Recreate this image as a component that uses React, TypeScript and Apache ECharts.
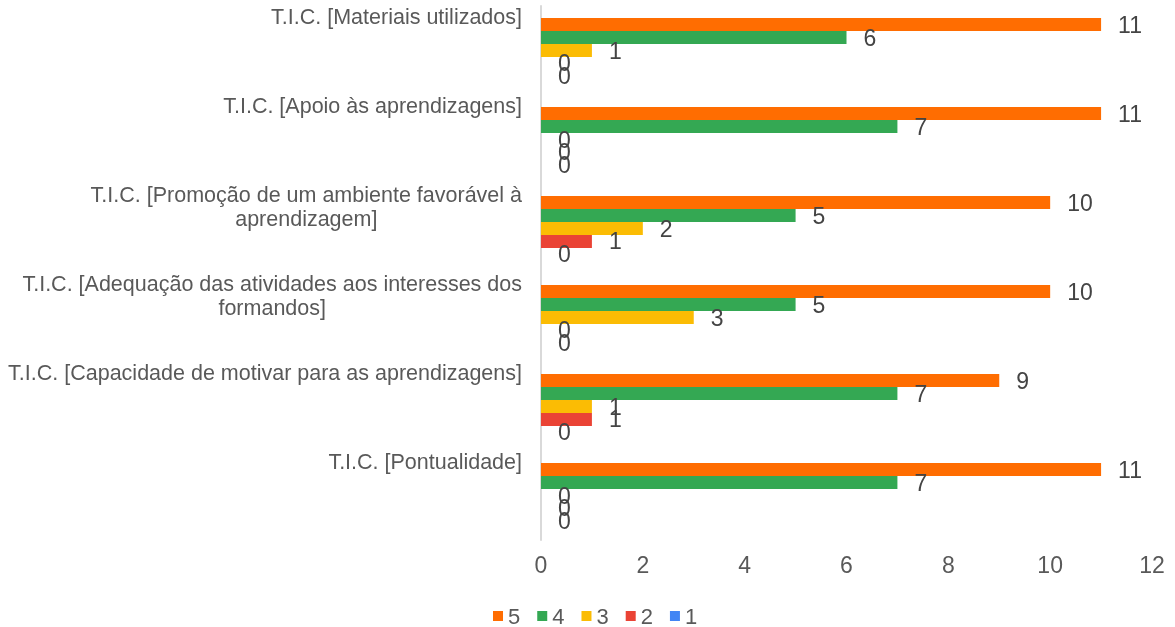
import React, { useEffect, useRef } from "react";
import * as echarts from "echarts";

const categories = [
  "T.I.C. [Materiais utilizados]",
  "T.I.C. [Apoio às aprendizagens]",
  "T.I.C. [Promoção de um ambiente favorável à\naprendizagem]",
  "T.I.C. [Adequação das atividades aos interesses dos\nformandos]",
  "T.I.C. [Capacidade de motivar para as aprendizagens]",
  "T.I.C. [Pontualidade]",
];
const seriesNames = ["5", "4", "3", "2", "1"];
const values5 = [11, 11, 10, 10, 9, 11];
const values4 = [6, 7, 5, 5, 7, 7];
const values3 = [1, 0, 2, 3, 1, 0];
const values2 = [0, 0, 1, 0, 1, 0];
const values1 = [0, 0, 0, 0, 0, 0];
const xTicks = { min: 0, max: 12, interval: 2 };

const colors = ["#FF6D01", "#34A853", "#FBBC04", "#EA4335", "#4285F4"];
const FONT = "'Liberation Sans', Arial, sans-serif";

export default function App() {
  const ref = useRef<HTMLDivElement>(null);
  useEffect(() => {
    if (!ref.current) return;
    const chart = echarts.init(ref.current, null, { renderer: "svg" });
    const allValues = [values5, values4, values3, values2, values1];
    chart.setOption({
      animation: false,
      textStyle: { fontFamily: FONT },
      grid: { left: 541, right: 23, top: 6, bottom: 87 },
      legend: {
        top: 605,
        left: 493,
        padding: 0,
        itemWidth: 10,
        itemHeight: 10,
        itemGap: 17,
        icon: "rect",
        textStyle: { fontSize: 22, lineHeight: 22, color: "#595959", fontFamily: FONT },
        data: seriesNames,
      },
      xAxis: {
        type: "value",
        min: xTicks.min,
        max: xTicks.max,
        interval: xTicks.interval,
        axisLine: { show: false },
        axisTick: { show: false },
        splitLine: { show: false },
        axisLabel: { fontSize: 23, color: "#595959", margin: 13, fontFamily: FONT },
      },
      yAxis: {
        type: "category",
        inverse: true,
        data: categories,
        axisLine: { show: true, lineStyle: { color: "#d9d9d9", width: 2 } },
        axisTick: { show: false },
        axisLabel: {
          interval: 0,
          margin: 19,
          align: "right",
          verticalAlign: "middle",
          formatter: (v: string) => {
            const lines = v.split("\n");
            return (
              lines.map((l) => `{c|${l}}`).join("\n") +
              (lines.length === 1 ? "\n{sp1| }" : "\n{sp2| }")
            );
          },
          rich: {
            c: { align: "center", fontSize: 21.5, color: "#595959", lineHeight: 24, fontFamily: FONT },
            sp1: { fontSize: 2, lineHeight: 68 },
            sp2: { fontSize: 2, lineHeight: 44 },
          },
        },
      },
      series: seriesNames.map((name, i) => ({
        name,
        type: "bar",
        data: allValues[i],
        barGap: "0%",
        barCategoryGap: "27%",
        itemStyle: { color: colors[i] },
        label: {
          show: true,
          position: "right",
          distance: 17,
          fontSize: 23,
          color: "#444444",
          fontFamily: FONT,
        },
      })),
    });
    return () => chart.dispose();
  }, []);
  return (
    <div
      ref={ref}
      style={{ position: "fixed", left: 0, top: 0, width: 1175, height: 627 }}
    />
  );
}
